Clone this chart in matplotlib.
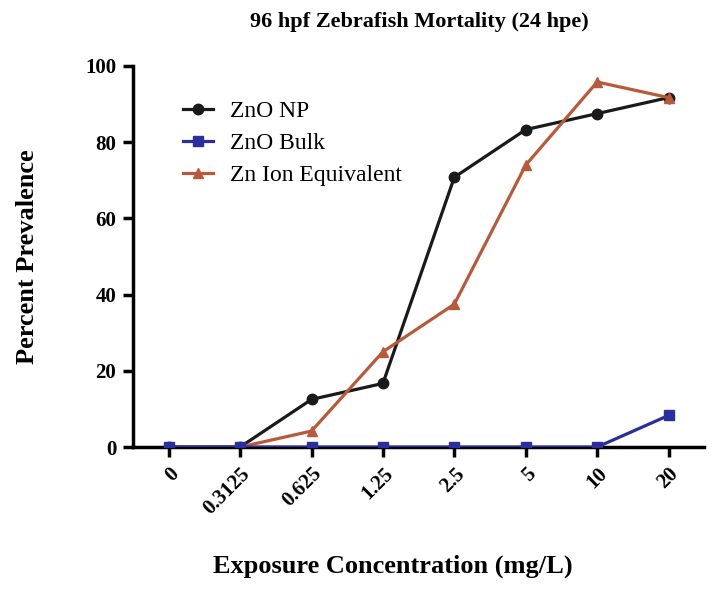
import matplotlib
matplotlib.use("Agg")
import matplotlib.pyplot as plt

plt.rcParams['font.family'] = ['Liberation Serif', 'DejaVu Serif']

conc = ['0', '0.3125', '0.625', '1.25', '2.5', '5', '10', '20']
zno_np = [0, 0, 12.5, 16.7, 70.8, 83.3, 87.5, 91.7]
zno_bulk = [0, 0, 0, 0, 0, 0, 0, 8.3]
zn_ion = [0, 0, 4.2, 25.0, 37.5, 74.0, 95.8, 91.7]

x = list(range(len(conc)))

fig = plt.figure(figsize=(7.15, 5.89), dpi=100)
ax = fig.add_axes([0.186, 0.241, 0.799, 0.647])

ax.plot(x, zno_np, '-o', color='#1a1a1a', lw=2.3, ms=7.5, label='ZnO NP', zorder=3)
ax.plot(x, zno_bulk, '-s', color='#2b2f9e', lw=2.3, ms=7.5, label='ZnO Bulk', zorder=4)
ax.plot(x, zn_ion, '-^', color='#b85a3a', lw=2.3, ms=7.5, label='Zn Ion Equivalent', zorder=3)

ax.set_xlim(-0.5, 7.5)
ax.set_ylim(0, 100)
ax.set_yticks([0, 20, 40, 60, 80, 100])
ax.set_xticks(x)
ax.set_xticklabels(conc, rotation=45, ha='right', rotation_mode='anchor')

for s in ['top', 'right']:
    ax.spines[s].set_visible(False)
for s in ['left', 'bottom']:
    ax.spines[s].set_linewidth(2.5)
ax.tick_params(width=2.5, length=7, labelsize=15, pad=5)
for lab in ax.get_xticklabels() + ax.get_yticklabels():
    lab.set_fontweight('bold')

ax.set_ylabel('Percent Prevalence', fontsize=19, fontweight='bold', labelpad=33)
ax.set_xlabel('Exposure Concentration (mg/L)', fontsize=19, fontweight='bold')
ax.xaxis.set_label_coords(0.455, -0.283)
fig.text(0.587, 0.962, '96 hpf Zebrafish Mortality (24 hpe)', fontsize=16,
         fontweight='bold', ha='center', va='center')

ax.legend(loc='upper left', bbox_to_anchor=(0.05, 0.965), frameon=False,
          fontsize=17, handlelength=1.3, labelspacing=0.45, handletextpad=0.7)

fig.savefig('out.png', dpi=100)
